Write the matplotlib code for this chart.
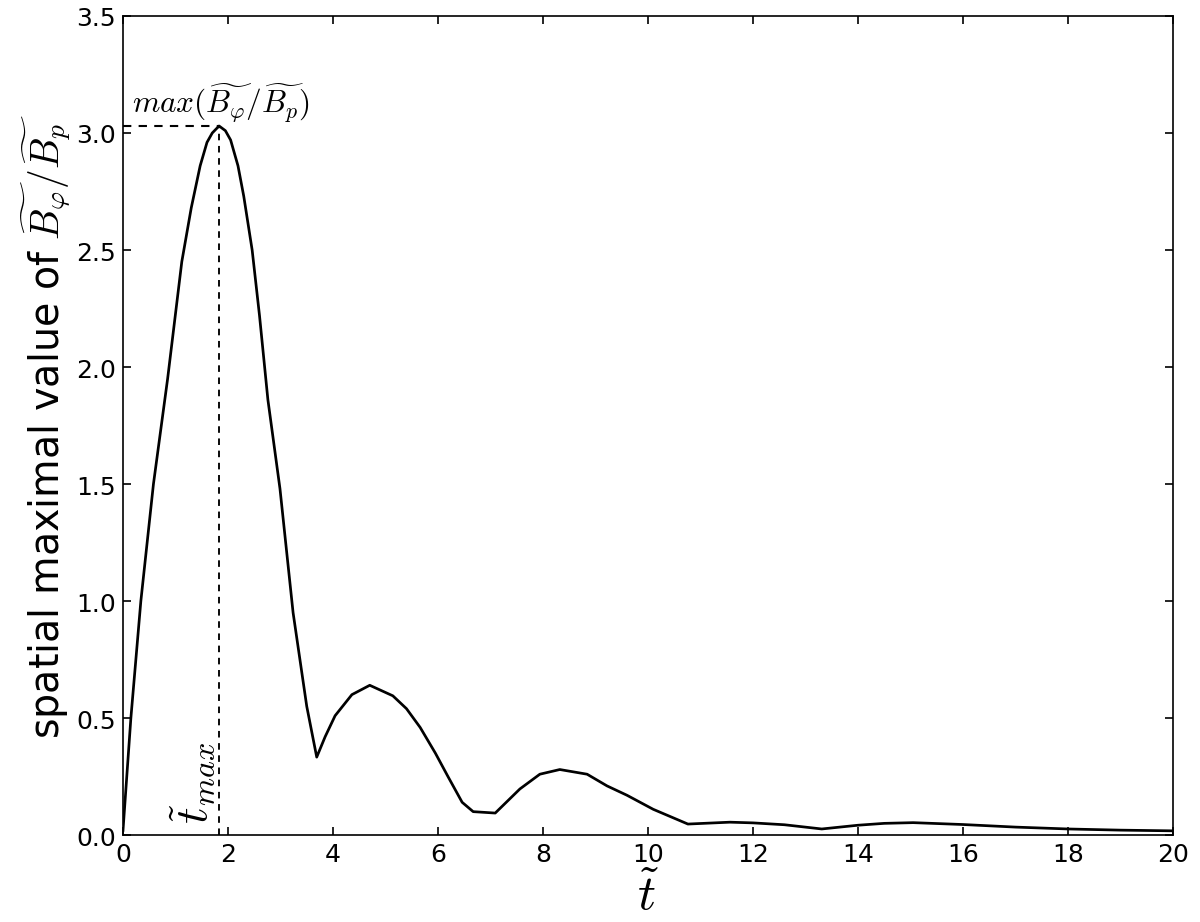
import matplotlib
matplotlib.use("Agg")
import matplotlib.pyplot as plt
import numpy as np

# time and spatial max of B_phi/B_p
t = [0.0, 0.15, 0.34, 0.58, 0.85, 1.12, 1.30, 1.47, 1.60, 1.70, 1.83, 1.95,
     2.05, 2.19, 2.30, 2.46, 2.60, 2.76, 2.99, 3.24, 3.50, 3.69, 3.85, 4.04,
     4.36, 4.70, 5.14, 5.40, 5.66, 5.95, 6.19, 6.46, 6.67, 7.09, 7.30, 7.56,
     7.94, 8.32, 8.84, 9.22, 9.60, 10.1, 10.76, 11.56, 12.0, 12.6, 13.31, 14.0,
     14.5, 15.05, 16.0, 17.0, 18.0, 19.0, 20.0]
bmax = [0.02, 0.50, 1.00, 1.50, 1.95, 2.45, 2.68, 2.86, 2.96, 3.00, 3.03, 3.01,
        2.97, 2.86, 2.73, 2.50, 2.22, 1.86, 1.48, 0.95, 0.55, 0.333, 0.42, 0.51,
        0.60, 0.64, 0.595, 0.54, 0.46, 0.35, 0.25, 0.14, 0.10, 0.094, 0.14, 0.197,
        0.26, 0.28, 0.26, 0.21, 0.17, 0.11, 0.047, 0.055, 0.052, 0.044, 0.026, 0.042,
        0.050, 0.053, 0.045, 0.034, 0.026, 0.021, 0.018]

t_peak = 1.83
b_peak = 3.03

plt.rcParams["mathtext.fontset"] = "cm"
plt.rcParams["font.family"] = "DejaVu Sans"
plt.rcParams["xtick.direction"] = "in"
plt.rcParams["ytick.direction"] = "in"
plt.rcParams["xtick.top"] = True
plt.rcParams["ytick.right"] = True
plt.rcParams["xtick.major.size"] = 4
plt.rcParams["ytick.major.size"] = 4

fig, ax = plt.subplots(figsize=(8, 6.1533), dpi=150)
ax.plot(t, bmax, color="black", lw=1.3)
ax.plot([0, t_peak], [b_peak, b_peak], color="black", lw=1.0, dashes=(4, 3.5))
ax.plot([t_peak, t_peak], [0, b_peak], color="black", lw=0.9, dashes=(3.5, 3))

ax.text(0.18, b_peak + 0.01, r"$max(\widetilde{B_\varphi}/\widetilde{B_p})$",
        fontsize=15, ha="left", va="bottom")
ax.text(t_peak - 0.04, 0.05, r"$\tilde{t}_{max}$", fontsize=22, rotation=90,
        ha="right", va="bottom")

ax.set_xlim(0, 20)
ax.set_ylim(0, 3.5)
ax.set_xticks(np.arange(0, 21, 2))
ax.set_yticks(np.arange(0, 3.51, 0.5))
ax.tick_params(labelsize=12, width=0.8)
ax.set_xlabel(r"$\tilde{t}$", fontsize=24, labelpad=2)
ax.set_ylabel(r"spatial maximal value of $\widetilde{B_\varphi}/\widetilde{B_p}$",
              fontsize=19, labelpad=2)

fig.subplots_adjust(left=0.1025, right=0.9775, top=0.9816, bottom=0.0942)
fig.savefig("out.png", dpi=150, facecolor="white")
